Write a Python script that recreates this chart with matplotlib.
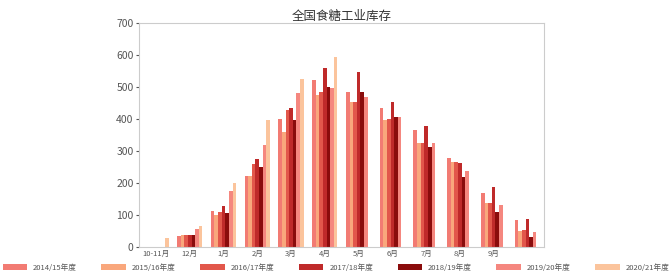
import numpy as np
import matplotlib
matplotlib.use('Agg')
import matplotlib.pyplot as plt

plt.rcParams['font.family'] = ['Noto Sans CJK SC', 'DejaVu Sans']

months = ['10-11月', '12月', '1月', '2月', '3月', '4月', '5月', '6月', '7月', '8月', '9月', '']
seasons = ['2014/15年度', '2015/16年度', '2016/17年度', '2017/18年度',
           '2018/19年度', '2019/20年度', '2020/21年度']

s1415 = [0, 35, 112, 222, 400, 522, 485, 434, 366, 278, 170, 84]
s1516 = [0, 38, 100, 222, 360, 475, 454, 397, 325, 267, 137, 51]
s1617 = [0, 36, 110, 258, 428, 485, 454, 400, 325, 265, 137, 52]
s1718 = [0, 38, 128, 275, 435, 558, 546, 454, 378, 263, 187, 87]
s1819 = [0, 38, 105, 250, 397, 501, 485, 407, 313, 220, 110, 32]
s1920 = [0, 55, 175, 320, 481, 496, 470, 405, 326, 238, 131, 48]
s2021 = [28, 65, 201, 397, 525, 592, np.nan, np.nan, np.nan, np.nan, np.nan, np.nan]

colors = ['#f27b73', '#f9a77c', '#e2574b', '#bf2a2a', '#8a0c0c', '#f5877f', '#fbc49c']

fig = plt.figure(figsize=(6.72, 2.76), dpi=100)
ax = fig.add_axes([0.207, 0.105, 0.603, 0.812])

series = [s1415, s1516, s1617, s1718, s1819, s1920, s2021]
x = np.arange(len(months))
w = 0.107
for i, vals in enumerate(series):
    ax.bar(x + (i - 3) * w, vals, width=w, color=colors[i], label=seasons[i], linewidth=0)

ax.set_xlim(-0.5, len(months) - 0.5)
ax.set_ylim(0, 700)
ax.set_yticks(range(0, 701, 100))
ax.set_xticks(x)
ax.set_xticklabels(months)
ax.tick_params(axis='x', labelsize=5.5, colors='#555555', length=0, pad=2)
ax.tick_params(axis='y', labelsize=7.5, colors='#555555', length=2, pad=2)
for sp in ax.spines.values():
    sp.set_color('#cccccc')
    sp.set_linewidth(0.8)

ax.set_title('全国食糖工业库存', fontsize=9, color='#333333', pad=2)

fig.legend(loc='lower center', bbox_to_anchor=(0.5, -0.01), ncol=7, frameon=False,
           fontsize=5.5, handlelength=3.2, handleheight=0.8, columnspacing=3.2,
           handletextpad=0.8, labelcolor='#555555')

fig.savefig('out.png', dpi=100)
